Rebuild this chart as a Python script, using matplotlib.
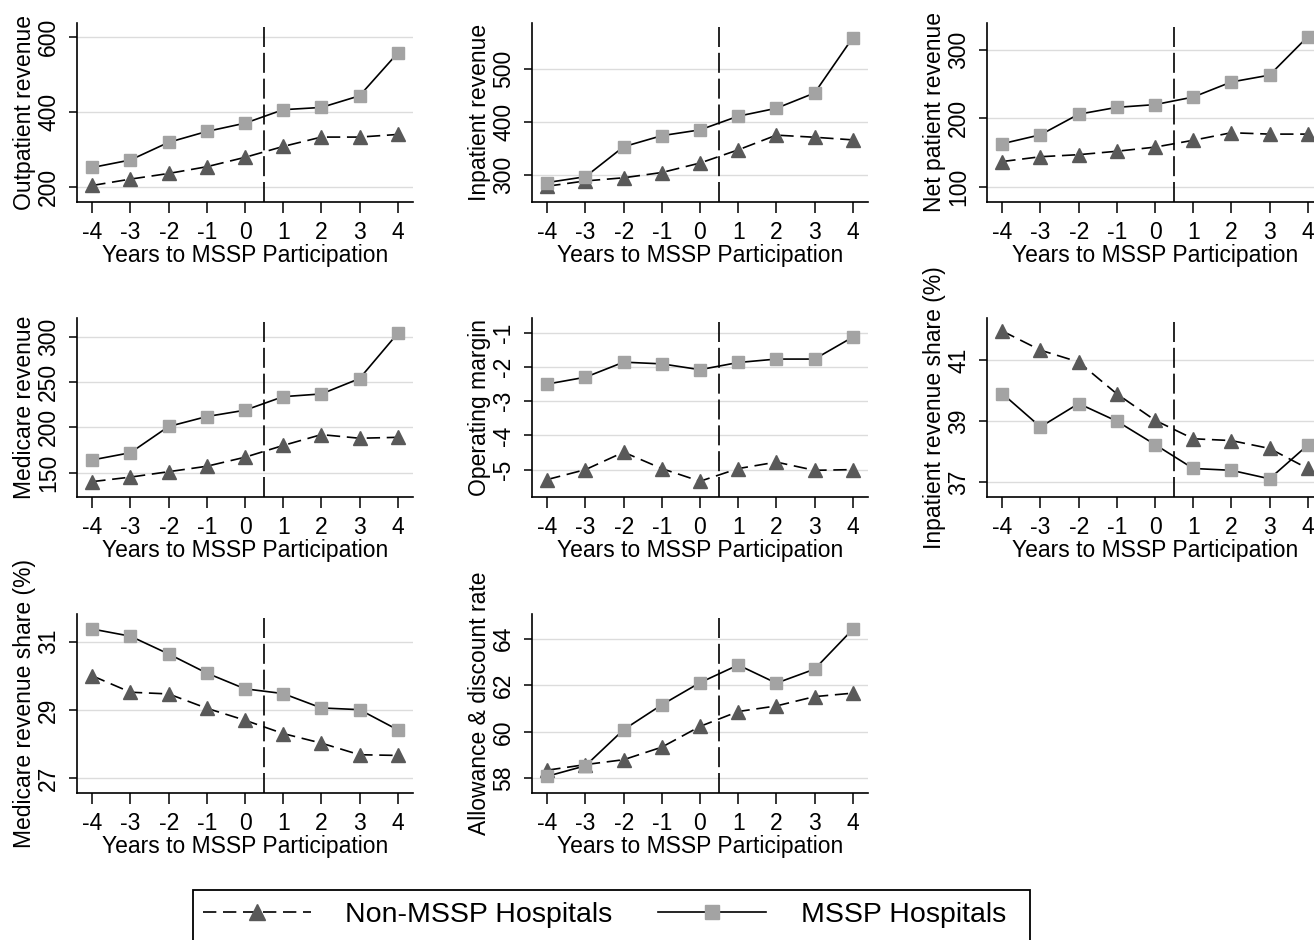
import matplotlib
matplotlib.use("Agg")
import matplotlib.pyplot as plt
from matplotlib.lines import Line2D
from matplotlib.patches import Rectangle

plt.rcParams['font.family'] = ['Liberation Sans', 'DejaVu Sans']
plt.rcParams['axes.unicode_minus'] = False

years = [-4, -3, -2, -1, 0, 1, 2, 3, 4]

# MSSP hospitals
outpatient_mssp = [252, 272, 319, 348, 370, 406, 412, 443, 557]
inpatient_mssp = [285, 296, 353, 374, 385, 411, 426, 455, 560]
netpatient_mssp = [163, 176, 206, 216, 220, 231, 253, 263, 319]
medicare_mssp = [164, 172, 201, 212, 219, 234, 237, 254, 304]
opmargin_mssp = [-2.50, -2.30, -1.86, -1.91, -2.08, -1.87, -1.77, -1.77, -1.13]
inpshare_mssp = [39.91, 38.81, 39.58, 39.00, 38.23, 37.44, 37.38, 37.10, 38.21]
medshare_mssp = [31.37, 31.16, 30.64, 30.08, 29.62, 29.48, 29.06, 29.01, 28.42]
allowance_mssp = [58.09, 58.54, 60.09, 61.16, 62.11, 62.87, 62.09, 62.69, 64.40]

# Non-MSSP hospitals
outpatient_non = [204, 221, 236, 254, 279, 308, 333, 333, 340]
inpatient_non = [278, 288, 294, 304, 322, 347, 375, 371, 366]
netpatient_non = [137, 144, 147, 152, 158, 168, 179, 177, 177]
medicare_non = [140, 145, 151, 157, 167, 180, 192, 188, 189]
opmargin_non = [-5.29, -5.00, -4.49, -4.97, -5.34, -4.97, -4.78, -5.02, -5.00]
inpshare_non = [41.97, 41.34, 40.95, 39.90, 39.03, 38.42, 38.36, 38.10, 37.44]
medshare_non = [30.00, 29.52, 29.47, 29.05, 28.70, 28.31, 28.03, 27.69, 27.67]
allowance_non = [58.35, 58.59, 58.80, 59.34, 60.23, 60.87, 61.11, 61.51, 61.66]

ylabels = ["Outpatient revenue", "Inpatient revenue", "Net patient revenue",
           "Medicare revenue", "Operating margin", "Inpatient revenue share (%)",
           "Medicare revenue share (%)", "Allowance & discount rate"]
yticks = [[200, 400, 600], [300, 400, 500], [100, 200, 300],
          [150, 200, 250, 300], [-5, -4, -3, -2, -1], [37, 39, 41],
          [27, 29, 31], [58, 60, 62, 64]]
ylims = [(160, 637), (248, 588), (78, 339), (123, 321), (-5.8, -0.57),
         (36.5, 42.4), (26.57, 31.81), (57.37, 65.06)]

mssp_series = [outpatient_mssp, inpatient_mssp, netpatient_mssp, medicare_mssp,
               opmargin_mssp, inpshare_mssp, medshare_mssp, allowance_mssp]
non_series = [outpatient_non, inpatient_non, netpatient_non, medicare_non,
              opmargin_non, inpshare_non, medshare_non, allowance_non]

W, H = 1314, 940
SQ_COLOR = '#a3a3a3'
TRI_COLOR = '#595959'
FS = 16.5

fig = plt.figure(figsize=(W / 100, H / 100), dpi=100)


def add_panel(left, top, width, height):
    return fig.add_axes([left / W, 1 - (top + height) / H, width / W, height / H])


col_left = [77, 532, 987]
row_top = [23, 318, 614]

for i in range(8):
    r, c = divmod(i, 3)
    ax = add_panel(col_left[c], row_top[r], 336, 179)
    ax.plot(years, non_series[i], color='black', lw=1.2, dashes=(8, 4),
            marker='^', markersize=9.5, markerfacecolor=TRI_COLOR,
            markeredgecolor=TRI_COLOR, zorder=3)
    ax.plot(years, mssp_series[i], color='black', lw=1.2,
            marker='s', markersize=8, markerfacecolor=SQ_COLOR,
            markeredgecolor=SQ_COLOR, zorder=4)
    ax.axvline(0.5, ymax=0.975, color='black', lw=1.2, dashes=(12, 3.5), zorder=2)

    ax.set_xlim(-4.4, 4.4)
    ax.set_ylim(*ylims[i])
    ax.set_xticks(years)
    ax.set_yticks(yticks[i])
    ax.grid(axis='y', color='#dcdcdc', lw=1)
    ax.set_axisbelow(True)
    for s in ['top', 'right']:
        ax.spines[s].set_visible(False)
    for s in ['left', 'bottom']:
        ax.spines[s].set_linewidth(1.2)
    ax.tick_params(axis='x', labelsize=FS, length=8, width=1.1, pad=6)
    ax.tick_params(axis='y', labelsize=FS, length=6, width=1.1, pad=6,
                   labelrotation=90)
    for lbl in ax.get_yticklabels():
        lbl.set_va('center')
    ax.set_xlabel("Years to MSSP Participation", fontsize=FS, labelpad=0)
    ax.set_ylabel(ylabels[i], fontsize=FS, labelpad=1)

# legend box (bottom edge falls outside the picture)
fig.patches.append(Rectangle((193 / W, 1 - 960 / H), (1030 - 193) / W, 70 / H,
                             transform=fig.transFigure, fill=False,
                             edgecolor='black', lw=1.3))
handles = [Line2D([], [], color='black', lw=1.2, dashes=(8, 4), marker='^',
                  markersize=11, markerfacecolor=TRI_COLOR, markeredgecolor=TRI_COLOR),
           Line2D([], [], color='black', lw=1.2, marker='s', markersize=10,
                  markerfacecolor=SQ_COLOR, markeredgecolor=SQ_COLOR)]
fig.legend(handles, ["Non-MSSP Hospitals", "MSSP Hospitals"], ncol=2,
           loc='center left', bbox_to_anchor=(203 / W, 1 - 915 / H),
           frameon=False, fontsize=20.5, handlelength=3.8, handletextpad=1.2,
           columnspacing=1.6, borderpad=0, borderaxespad=0, numpoints=1)

fig.savefig("out.png", dpi=100)
